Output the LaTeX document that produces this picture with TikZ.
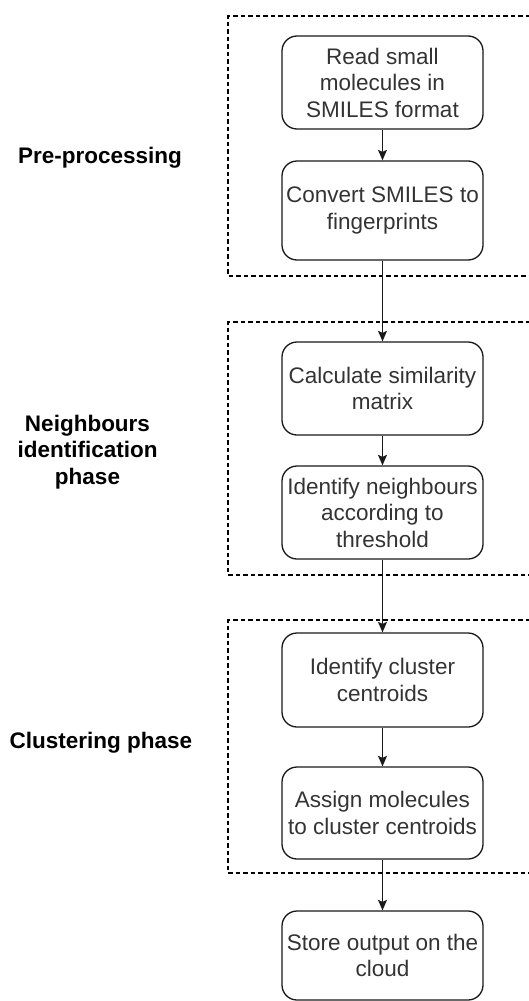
\documentclass[tikz,border=0pt]{standalone}
\usepackage{fontspec}
\setmainfont{Liberation Sans}
\usetikzlibrary{arrows.meta}
\begin{document}
\begin{tikzpicture}[x=1pt,y=-1pt,
  stepbox/.style={draw=black!90, line width=1.3pt, rounded corners=15pt,
    minimum width=201pt, align=center, inner sep=0pt,
    text=black!80, font=\fontsize{22.5pt}{26.5pt}\selectfont},
  phase/.style={font=\bfseries\fontsize{22.5pt}{26.5pt}\selectfont,
    align=center, inner sep=0pt},
  frame/.style={draw=black, line width=1.1pt, dash pattern=on 4.5pt off 3pt},
  flow/.style={draw=black!90, line width=1.3pt,
    -{Stealth[length=10.5pt,width=9pt,inset=2pt]}}
]
\useasboundingbox (0,0) rectangle (529,1001);
\clip (0,0) rectangle (529,1001);

% phase frames, open towards the right edge
\draw[frame] (545,16)  -- (228,16)  -- (228,276) -- (545,276);
\draw[frame] (545,322) -- (228,322) -- (228,575) -- (545,575);
\draw[frame] (545,620) -- (228,620) -- (228,873) -- (545,873);

% phase titles
\node[phase, anchor=base] (pre) at (100,163) {Pre-processing};
\node[phase] (nbr) at (87.5,452) {Neighbours\\identification\\phase};
\node[phase, anchor=base] (clu) at (101,748) {Clustering phase};

% process steps
\node[stepbox, minimum height=93pt] (read)   at (382.5,82.5)  {Read small\\molecules in\\SMILES format};
\node[stepbox, minimum height=99pt] (conv)   at (382.5,210.5) {Convert SMILES to\\fingerprints};
\node[stepbox, minimum height=93pt] (simil)  at (382.5,388.5) {Calculate similarity\\matrix};
\node[stepbox, minimum height=93pt] (neigh)  at (382.5,512.5) {Identify neighbours\\according to\\threshold};
\node[stepbox, minimum height=94pt] (cent)   at (382.5,680)   {Identify cluster\\centroids};
\node[stepbox, minimum height=92pt] (assign) at (382.5,813)   {Assign molecules\\to cluster centroids};
\node[stepbox, minimum height=89pt] (store)  at (382.5,955.5) {Store output on the\\cloud};

% flow
\draw[flow] (read)   -- (conv);
\draw[flow] (conv)   -- (simil);
\draw[flow] (simil)  -- (neigh);
\draw[flow] (neigh)  -- (cent);
\draw[flow] (cent)   -- (assign);
\draw[flow] (assign) -- (store);
\end{tikzpicture}
\end{document}
